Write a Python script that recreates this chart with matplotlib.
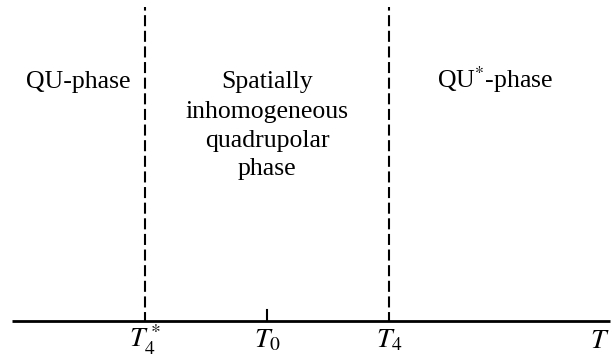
import matplotlib
matplotlib.use("Agg")
import matplotlib.pyplot as plt

plt.rcParams["font.family"] = ["Liberation Serif", "DejaVu Serif"]
plt.rcParams["mathtext.fontset"] = "stix"

# Temperatures on the axis (arbitrary units, equally spaced)
tick_pos = [1.0, 2.0, 3.0]
tick_labels = [r"$T_4^*$", r"$T_0$", r"$T_4$"]
boundaries = [1.0, 3.0]          # dashed phase boundaries T4*, T4
axis_range = (-0.09, 4.81)
axis_label_pos = 4.73

phase_x = [0.45, 2.0, 3.87]
left_label = "QU-phase"
right_label = "QU$^{*}$-phase"
middle_lines = ["Spatially", "inhomogeneous", "quadrupolar", "phase"]
middle_baselines = [0.737, 0.642, 0.551, 0.462]

fig = plt.figure(figsize=(6.16, 3.58), dpi=100)
ax = fig.add_axes([0, 0, 1, 1])
ax.set_xlim(-0.189, 4.861)
ax.set_ylim(-0.117, 1.016)
ax.axis("off")

# horizontal temperature axis
ax.plot(axis_range, [0, 0], color="black", lw=2.0, solid_capstyle="butt")

# dashed boundaries
for b in boundaries:
    ax.plot([b, b], [0, 0.995], color="black", lw=1.5, ls=(1, (5.3, 2.2)))

# T0 tick
ax.plot([tick_pos[1], tick_pos[1]], [0, 0.036], color="black", lw=1.5)

for x, lab in zip(tick_pos, tick_labels):
    ax.text(x, -0.085, lab, ha="center", va="baseline", fontsize=20)
ax.text(axis_label_pos, -0.085, r"$T$", ha="center", va="baseline", fontsize=20)

# phase labels
ax.text(phase_x[0], 0.737, left_label, ha="center", va="baseline", fontsize=18.5)
for txt, yb in zip(middle_lines, middle_baselines):
    ax.text(phase_x[1], yb, txt, ha="center", va="baseline", fontsize=18.5)
ax.text(phase_x[2], 0.737, right_label, ha="center", va="baseline", fontsize=18.5)

fig.savefig("out.png", dpi=100)
